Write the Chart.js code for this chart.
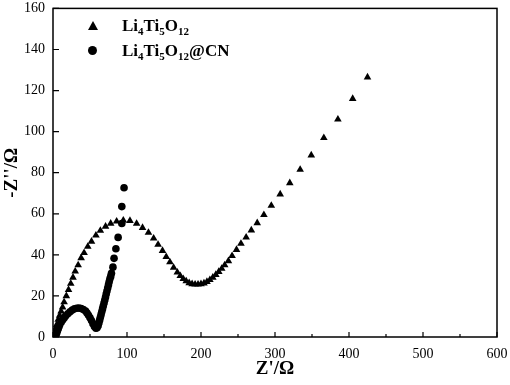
<!DOCTYPE html>
<html>
<head>
<meta charset="utf-8">
<script src="https://cdn.jsdelivr.net/npm/chart.js@4.4.0/dist/chart.umd.min.js"></script>
<style>
html, body { margin: 0; padding: 0; background: #fff; overflow: hidden; }
#wrap { position: relative; width: 510px; height: 385px; }
#legend { position: absolute; left: 87px; top: 13px; font-family: "Liberation Serif", serif; font-weight: bold; font-size: 17px; color: #000; }
.row { position: relative; height: 25px; line-height: 25px; }
.mk { position: absolute; }
.tri { width: 0; height: 0; border-left: 5px solid transparent; border-right: 5px solid transparent; border-bottom: 9px solid #000; top: 8px; left: 1px; }
.dot { width: 9px; height: 9px; border-radius: 50%; background: #000; top: 8px; left: 1px; }
.lbl { position: absolute; left: 35px; white-space: nowrap; }
sub { font-size: 11px; vertical-align: -4px; line-height: 0; }
canvas { display: block; }
</style>
</head>
<body>
<div id="wrap">
  <canvas id="myChart" width="510" height="385"></canvas>
  <div id="legend">
    <div class="row"><span class="mk tri"></span><span class="lbl">Li<sub>4</sub>Ti<sub>5</sub>O<sub>12</sub></span></div>
    <div class="row"><span class="mk dot"></span><span class="lbl">Li<sub>4</sub>Ti<sub>5</sub>O<sub>12</sub>@CN</span></div>
  </div>
</div>
<script>
// Z' (ohm) and -Z'' (ohm)
let zReLTO = [1, 2, 3, 5, 7, 9, 11, 13, 15, 18, 21, 24, 27, 30, 34, 38, 42, 47, 52, 58, 64, 71, 78, 86, 95, 104, 113, 121, 129, 136, 142, 148, 153, 158, 163, 168, 172, 176, 180, 184, 188, 192, 196, 200, 204, 208, 212, 216, 220, 224, 228, 232, 237, 242, 248, 254, 261, 268, 276, 285, 295, 307, 320, 334, 349, 366, 385, 405, 425];
let zImLTO = [0.5, 2, 4, 6, 8.5, 10.5, 12.5, 14.5, 17, 20, 23, 26, 29, 32, 35, 38.5, 41, 44, 46.5, 49.5, 51.8, 53.8, 55.3, 56.3, 56.8, 56.6, 55.2, 53.2, 50.8, 48, 45, 42, 39, 36.5, 33.8, 31.5, 29.8, 28.3, 27.2, 26.3, 25.8, 25.6, 25.6, 25.8, 26.2, 26.9, 27.8, 29, 30.3, 31.8, 33.3, 35, 37, 39.5, 42.5, 45.5, 48.5, 52, 55.5, 59.5, 64, 69.5, 75, 81.5, 88.5, 97, 106, 116, 126.5];

let zReCN = [3, 4, 5, 6, 7, 8, 9, 11, 13, 15, 17, 20, 23, 26, 29, 32, 35, 38, 41, 44, 46, 48, 50, 52, 54, 56, 58, 59.5, 61, 62, 63, 64, 65, 66, 67, 68, 69, 70, 71, 72, 73, 74, 75, 76, 77, 78, 79, 81, 82.5, 85, 88, 93, 93, 96];
let zImCN = [0, 1, 2, 3, 4, 5, 6, 7.2, 8.3, 9.3, 10.2, 11.3, 12.3, 13.1, 13.7, 14, 14.1, 13.9, 13.4, 12.6, 11.7, 10.6, 9.4, 8, 6.5, 5.1, 4.3, 4.5, 5.5, 6.8, 8.2, 9.6, 11, 12.4, 13.8, 15.2, 16.6, 18, 19.5, 21, 22.5, 24, 25.5, 27, 28.5, 29.5, 31, 34, 38.3, 43, 48.5, 55.3, 63.5, 72.7];

let xTicks = [0, 100, 200, 300, 400, 500, 600];
let yTicks = [0, 20, 40, 60, 80, 100, 120, 140, 160];
let xMinor = [50, 150, 250, 350, 450, 550];

let toPoints = (xs, ys) => xs.map((v, i) => ({ x: v, y: ys[i] }));

let frame = {
    id: 'frame',
    beforeDatasetsDraw(chart) {
        let ctx = chart.ctx;
        let a = chart.chartArea;
        let sx = chart.scales.x, sy = chart.scales.y;
        ctx.save();
        ctx.strokeStyle = '#000';
        ctx.lineWidth = 1.5;
        ctx.strokeRect(a.left, a.top, a.right - a.left, a.bottom - a.top);
        ctx.lineWidth = 1.2;
        ctx.beginPath();
        xTicks.forEach(t => {
            let p = sx.getPixelForValue(t);
            ctx.moveTo(p, a.bottom); ctx.lineTo(p, a.bottom - 5);
        });
        xMinor.forEach(t => {
            let p = sx.getPixelForValue(t);
            ctx.moveTo(p, a.bottom); ctx.lineTo(p, a.bottom - 3);
        });
        yTicks.forEach(t => {
            let p = sy.getPixelForValue(t);
            ctx.moveTo(a.left, p); ctx.lineTo(a.left + 6, p);
        });
        ctx.stroke();
        ctx.restore();
    }
};

let tickFont = { family: 'Liberation Serif', size: 14 };
let titleFont = { family: 'Liberation Serif', size: 19, weight: 'bold' };

let ctx = document.getElementById('myChart').getContext('2d');
let chart = new Chart(ctx, {
    type: 'scatter',
    data: {
        datasets: [{
            label: 'Li4Ti5O12',
            data: toPoints(zReLTO, zImLTO),
            pointStyle: 'triangle',
            pointRadius: 4.4,
            backgroundColor: '#000',
            borderColor: '#000',
            borderWidth: 0,
            order: 1
        }, {
            label: 'Li4Ti5O12@CN',
            data: toPoints(zReCN, zImCN),
            pointStyle: 'circle',
            pointRadius: 3.8,
            backgroundColor: '#000',
            borderColor: '#000',
            borderWidth: 0,
            order: 0
        }]
    },
    options: {
        responsive: false,
        animation: false,
        layout: { padding: { top: 7, right: 13, left: 0, bottom: 0 } },
        plugins: { legend: { display: false }, tooltip: { enabled: false } },
        scales: {
            x: {
                type: 'linear',
                min: xTicks[0],
                max: xTicks[xTicks.length - 1],
                ticks: { stepSize: 100, font: tickFont, color: '#000', padding: 1 },
                grid: { display: false },
                border: { display: false },
                title: { display: true, text: "Z'/Ω", font: titleFont, color: '#000', padding: { top: 0, bottom: 5 } },
                afterFit: s => { s.height = 48; }
            },
            y: {
                type: 'linear',
                min: yTicks[0],
                max: yTicks[yTicks.length - 1],
                ticks: { stepSize: 20, font: tickFont, color: '#000', padding: 0 },
                grid: { display: false },
                border: { display: false },
                title: { display: true, text: "-Z''/Ω", font: titleFont, color: '#000', padding: { top: 1, bottom: 0 } },
                afterFit: s => { s.width = 53; }
            }
        }
    },
    plugins: [frame]
});
</script>
</body>
</html>
